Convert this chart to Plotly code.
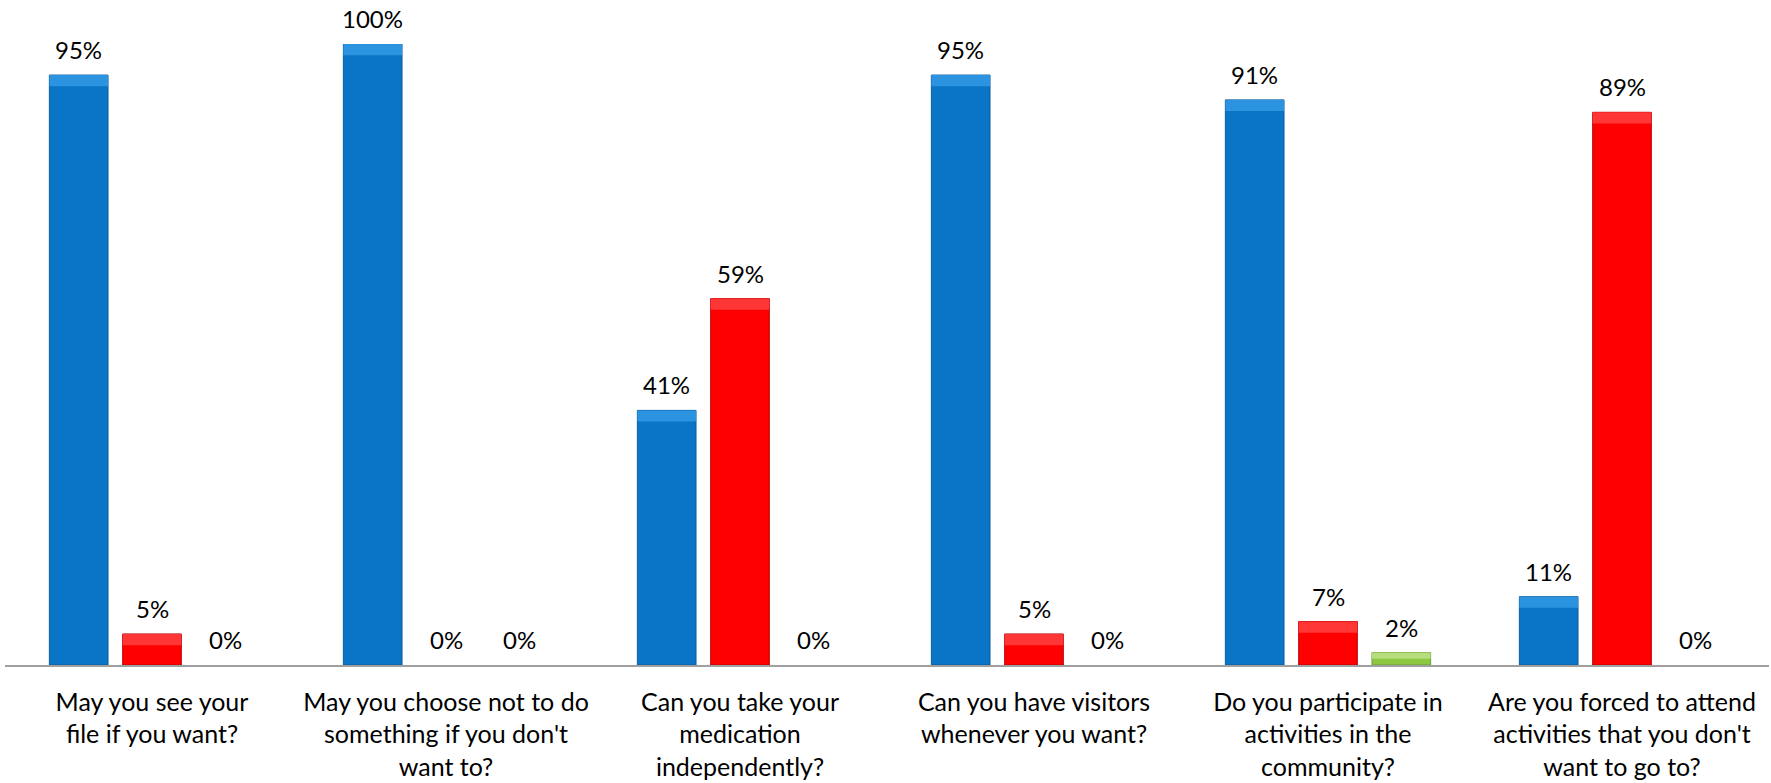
import plotly.graph_objects as go

# Survey questions (x categories), with manual line breaks
categories = [
    "May you see your<br>file if you want?",
    "May you choose not to do<br>something if you don't<br>want to?",
    "Can you take your<br>medication<br>independently?",
    "Can you have visitors<br>whenever you want?",
    "Do you participate in<br>activities in the<br>community?",
    "Are you forced to attend<br>activities that you don't<br>want to go to?",
]

# Response shares in percent
yes_pct = [95, 100, 41, 95, 91, 11]
no_pct = [5, 0, 59, 5, 7, 89]
unsure_pct = [0, 0, 0, 0, 2, 0]

# name, values, body colour, edge colour, top-bevel highlight colour
series = [
    ("Yes", yes_pct, "#0A74C6", "#0B5C9E", "#2B93E0"),
    ("No", no_pct, "#FF0000", "#B80000", "#FF3636"),
    ("Don't know", unsure_pct, "#8DC641", "#6A9A33", "#B6DE7C"),
]

FONT = "Lato"
BEVEL = 1.8          # depth of the lighter top bevel, in percentage points
SLOT_PX = 73.3       # horizontal distance between neighbouring bars in a group

fig = go.Figure()
for i, (name, vals, fill, edge, light) in enumerate(series):
    group = str(i)
    fig.add_trace(go.Bar(
        name=name,
        x=categories,
        y=vals,
        offsetgroup=group,
        marker=dict(color=fill,
                    line=dict(color=edge, width=[1 if v > 0 else 0 for v in vals])),
        hovertemplate="%{y}%<extra>" + name + "</extra>",
    ))
    # lighter strip along the top of each bar for a bevelled look
    depth = [min(BEVEL, v * 0.5) for v in vals]
    fig.add_trace(go.Bar(
        name=name + " bevel",
        x=categories,
        y=depth,
        base=[v - d for v, d in zip(vals, depth)],
        offsetgroup=group,
        marker=dict(color=light, line=dict(width=0)),
        hoverinfo="skip",
        showlegend=False,
    ))

# value labels above the bars
annotations = []
for i, (name, vals, *_ignored) in enumerate(series):
    for cat, v in zip(categories, vals):
        annotations.append(dict(
            x=cat, y=v, xref="x", yref="y",
            text=f"{v}%",
            showarrow=False,
            xanchor="center", yanchor="bottom",
            xshift=(i - 1) * SLOT_PX,
            yshift=9,
            font=dict(family=FONT, size=24, color="#000000"),
        ))

fig.update_layout(
    width=1771,
    height=783,
    margin=dict(l=5, r=2, t=44, b=116),
    barmode="group",
    bargap=0.252,
    bargroupgap=0.2,
    showlegend=False,
    plot_bgcolor="white",
    paper_bgcolor="white",
    font=dict(family=FONT, color="#000000"),
    annotations=annotations,
)
fig.update_xaxes(
    showline=True,
    linecolor="#A0A0A0",
    linewidth=1.5,
    ticks="",
    ticklabelstandoff=14,
    tickfont=dict(family=FONT, size=25, color="#000000"),
    showgrid=False,
)
fig.update_yaxes(
    range=[0, 100],
    visible=False,
    showgrid=False,
    zeroline=False,
)

fig.write_html("out.html")
